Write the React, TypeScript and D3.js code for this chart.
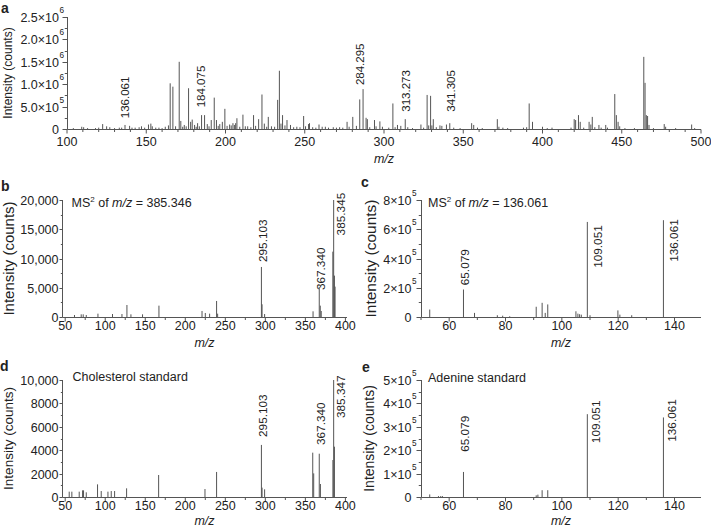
import React from 'react';
import * as d3 from 'd3';

// ---------- panel a : full scan spectrum ----------
const peaksA: [number, number][] = [
    [104, 2e4], [109.3, 5e4], [110.5, 4e4], [113, 2e4], [118, 2e4], [120, 3e4], [122.5, 1.1e5], [125, 6e4],
    [127, 4e4], [130, 2e4], [133, 3e4], [134.5, 3e4], [136.6, 9e4], [139.5, 7e4], [141, 3e4], [143, 3e4],
    [145.5, 4e4], [147, 6e4], [149, 3e4], [151.4, 1.0e5], [152.9, 1.2e5], [153.8, 6e4], [156, 3e4], [158, 3e4],
    [160, 2e4], [162, 5e4], [164, 8e4], [165.1, 1.02e6], [166.8, 9.45e5], [168.5, 6e4], [170.8, 1.5e6],
    [171.8, 1.8e5], [173, 5e4], [174, 9e4], [175.2, 6e4], [176.7, 9.1e5], [178, 1.6e5], [179, 2.1e5],
    [180.5, 9e4], [181.5, 5e4], [182.4, 1.3e5], [183.5, 6e4], [184.9, 3.1e5], [186.8, 3.1e5], [188.5, 1.1e5],
    [189.6, 6e4], [191, 2.0e5], [192.9, 7.0e5], [194.3, 2.0e5], [195.4, 7e4], [196.4, 1.1e5], [198, 1.6e5],
    [199.6, 4.5e5], [201, 7e4], [202.6, 1.0e5], [203.6, 8e4], [204.7, 1.3e5], [205.6, 9e4], [206.4, 1.3e5],
    [207.2, 2.4e5], [209, 5e4], [211, 3.2e5], [212.5, 6e4], [214, 6e4], [216, 4e4], [217.7, 3.1e5],
    [219, 7e4], [220.9, 2.2e5], [223, 7.7e5], [224.5, 1.2e5], [226, 5e4], [227, 2.7e5], [229, 6e4],
    [231, 5e4], [232.9, 6.5e5], [234, 1.3e6], [235, 1.2e5], [236, 3.1e5], [237.5, 8e4], [238.8, 2.0e5],
    [241, 9e4], [243, 4e4], [245, 5e4], [247, 4e4], [249.3, 2.9e5], [250.5, 6e4], [252.4, 1.1e5],
    [253, 1.3e5], [255, 4e4], [257, 3e4], [259, 1.0e5], [261, 5e4], [263, 5e4], [265, 3e4], [268, 4e4],
    [270, 3e4], [272, 4e4], [274, 3e4], [276.7, 1.6e5], [278, 5e4], [280.3, 2.7e5], [282.6, 7e4],
    [284.7, 6.6e5], [286.8, 8.9e5], [288.7, 2.5e5], [289.5, 2.2e5], [291, 4e4], [294, 2.0e5], [295, 6e4],
    [297.4, 1.7e5], [299, 5e4], [303, 3e4], [305.6, 5.7e5], [307, 4e4], [308.5, 9e4], [310.6, 7e4],
    [313.4, 2.2e5], [315, 4e4], [318, 2e4], [323.3, 1.0e5], [325, 3e4], [327.2, 7.6e5], [328.2, 8e4],
    [329.4, 7.4e5], [330.2, 8e4], [331.1, 2.2e5], [333, 4e4], [335.3, 8e4], [336.5, 7e4], [339.4, 1.0e5],
    [341.5, 1.3e5], [344, 3e4], [348, 2e4], [355.3, 1.3e5], [356.6, 9e4], [359, 3e4], [362, 2e4],
    [371.5, 2.2e5], [372.5, 5e4], [375, 3e4], [378, 2e4], [388, 3e4], [390, 4e4], [391.6, 5.7e5],
    [393.7, 1.6e5], [400, 5e4], [403, 2e4], [406, 3e4], [418, 3e4], [420, 2.2e5], [420.9, 2.0e5],
    [422.7, 3.1e5], [423.8, 1.6e5], [426, 3e4], [429.4, 1.6e5], [430.5, 1.0e5], [431.4, 2.7e5], [433, 4e4],
    [435.6, 9e4], [437, 3e4], [439.9, 9e4], [441, 3e4], [445.6, 7.8e5], [446.6, 3.1e5], [447.7, 1.6e5],
    [448.7, 6e4], [452, 2e4], [458, 2e4], [463.9, 1.61e6], [464.7, 1.03e6], [465.5, 3.1e5], [466.3, 2.9e5],
    [467.2, 9e4], [470, 2e4], [476.8, 1.1e5], [477.7, 5e4], [484, 2e4], [494.1, 1.0e5], [496, 2e4]
];
// text, m/z, intensity level where the text starts, placed beside the peak
const labelsA: [string, number, number, boolean][] = [
    ['136.061', 136.061, 2.4e5, false],
    ['184.075', 184.075, 4.85e5, false],
    ['284.295', 284.295, 9.8e5, false],
    ['313.273', 313.273, 3.85e5, false],
    ['341.305', 341.305, 3.85e5, false]
];
const xTicksA = [100, 150, 200, 250, 300, 350, 400, 450, 500];
const yTicksA = [0, 5e5, 1e6, 1.5e6, 2e6, 2.5e6];
const yTickTextA: [string, string][] = [['0', ''], ['5.0×10', '5'], ['1.0×10', '6'], ['1.5×10', '6'], ['2.0×10', '6'], ['2.5×10', '6']];

// ---------- panel b : MS2 of 385.346 ----------
const peaksB: [number, number][] = [
    [61.6, 340], [70, 456], [72.5, 456], [76.3, 340], [90.9, 570], [109.1, 510], [120.9, 510], [127.1, 2050],
    [132.1, 456], [146.6, 456], [167.1, 1940], [220.9, 1030], [225, 684], [230.4, 570], [239.1, 2740],
    [240.4, 570], [295.1, 8550], [295.9, 2170], [299.1, 510], [359.6, 970], [367.34, 5130], [368.6, 1940],
    [369.8, 1030], [384.3, 11170], [385.35, 20000], [386.3, 7070], [387.1, 5190]
];
const labelsB: [string, number, number, boolean][] = [
    ['295.103', 295.103, 9400, false],
    ['367.340', 367.34, 4600, false],
    ['385.345', 385.345, 13950, true]
];
const xTicksB = [50, 100, 150, 200, 250, 300, 350, 400];
const yTicksB = [0, 5000, 10000, 15000, 20000];
const yTickTextB: [string, string][] = [['0', ''], ['5,000', ''], ['10,000', ''], ['15,000', ''], ['20,000', '']];

// ---------- panel c : MS2 of 136.061 ----------
const peaksC: [number, number][] = [
    [53.1, 5.1e4], [65.079, 1.88e5], [69, 2.8e4], [77.1, 1.2e4], [79, 9e3], [81.5, 5e3], [90.9, 7.0e4],
    [93, 9.7e4], [94.1, 2.8e4], [95, 8.6e4], [105, 3.9e4], [105.7, 2.3e4], [106.3, 1.9e4], [106.9, 1.6e4],
    [109.051, 6.5e5], [110, 1.2e4], [119.9, 4.5e4], [120.6, 1.6e4], [124.8, 1.2e4], [136.061, 6.62e5]
];
const labelsC: [string, number, number, boolean][] = [
    ['65.079', 65.079, 2.17e5, false],
    ['109.051', 109.051, 3.36e5, true],
    ['136.061', 136.061, 3.77e5, true]
];
const xTicksC = [60, 80, 100, 120, 140];
const yTicksC = [0, 2e5, 4e5, 6e5, 8e5];
const yTickTextC: [string, string][] = [['0', ''], ['2×10', '5'], ['4×10', '5'], ['6×10', '5'], ['8×10', '5']];

// ---------- panel d : cholesterol standard ----------
const peaksD: [number, number][] = [
    [55, 456], [58.3, 456], [67.5, 456], [71.7, 570], [72.9, 570], [76.3, 400], [90.4, 1080], [95, 510],
    [103.4, 456], [107.5, 510], [111.7, 510], [126.7, 740], [166.7, 1880], [224.6, 680], [239.1, 2140],
    [295.1, 4450], [295.9, 800], [299.1, 655], [359.2, 3790], [360.4, 2020], [367.34, 3700], [368.8, 1110],
    [384.4, 3160], [385.35, 10000], [386.3, 4300]
];
const labelsD: [string, number, number, boolean][] = [
    ['295.103', 295.103, 5130, false],
    ['367.340', 367.34, 4440, false],
    ['385.347', 385.347, 6750, true]
];
const yTicksD = [0, 2000, 4000, 6000, 8000, 10000];
const yTickTextD: [string, string][] = [['0', ''], ['2000', ''], ['4000', ''], ['6000', ''], ['8000', ''], ['10,000', '']];

// ---------- panel e : adenine standard ----------
const peaksE: [number, number][] = [
    [53.1, 1.1e4], [56.2, 4e3], [57, 4e3], [57.6, 4e3], [65.079, 1.07e5], [90.9, 7e3], [91.5, 1.0e4],
    [93, 2.9e4], [95, 2.9e4], [109.051, 3.54e5], [136.061, 3.4e5]
];
const labelsE: [string, number, number, boolean][] = [
    ['65.079', 65.079, 1.93e5, false],
    ['109.051', 109.051, 2.3e5, true],
    ['136.061', 136.061, 2.36e5, true]
];
const yTicksE = [0, 1e5, 2e5, 3e5, 4e5, 5e5];
const yTickTextE: [string, string][] = [['0', ''], ['1×10', '5'], ['2×10', '5'], ['3×10', '5'], ['4×10', '5'], ['5×10', '5']];

const FONT = '"Liberation Sans", Arial, Helvetica, sans-serif';
const INK = '#222';
const AXIS = '#555';
const PEAK = '#555';

interface PanelSpec {
    letter: string;
    letterPos: [number, number];
    left: number; right: number; top: number; bottom: number;
    xDomain: [number, number];
    yMax: number;
    xTicks: number[];
    xMinorStep: number;
    yTicks: number[];
    yTickText: [string, string][];
    yMinorStep: number;
    peaks: [number, number][];
    labels: [string, number, number, boolean][];
    note?: React.ReactNode;
    notePos?: [number, number];
    tickSize: number;
    titleSize: number;
    titleX: number;
    labelSize: number;
    labelGap: number;
    yLabelGap: number;
    yTickLen: number;
    xLabelY: number;
    mzY: number;
}

function Panel({s}: { s: PanelSpec }) {
    const x = d3.scaleLinear().domain(s.xDomain).range([s.left, s.right]);
    const y = d3.scaleLinear().domain([0, s.yMax]).range([s.bottom, s.top]);
    const y0 = Math.round(y(0)) + 0.5;
    const ax = Math.round(s.left) + 0.5;

    const xMinor = d3.range(Math.ceil(s.xDomain[0] / s.xMinorStep) * s.xMinorStep, s.xDomain[1] + 1e-6, s.xMinorStep)
        .filter(v => !s.xTicks.includes(v));
    const yMinor = d3.range(0, s.yMax + 1e-6, s.yMinorStep).filter(v => !s.yTicks.includes(v));

    return (
        <g fontFamily={FONT} fill={INK}>
            <text x={s.letterPos[0]} y={s.letterPos[1]} fontSize={14} fontWeight="bold">{s.letter}</text>

            {s.peaks.map(([mz, v], i) => (
                <line key={i} x1={x(mz)} x2={x(mz)} y1={y0} y2={y(v)} stroke={PEAK} strokeWidth={1}/>
            ))}

            {/* axes */}
            <line x1={ax} x2={s.right} y1={y0} y2={y0} stroke={AXIS}/>
            <line x1={ax} x2={ax} y1={y0} y2={y(s.yMax)} stroke={AXIS}/>

            {s.xTicks.map(t => (
                <g key={'xt' + t}>
                    <line x1={x(t)} x2={x(t)} y1={y0} y2={y0 + 4} stroke={AXIS}/>
                    <text x={x(t)} y={s.xLabelY} fontSize={s.tickSize} textAnchor="middle">{t}</text>
                </g>
            ))}
            {xMinor.map(t => (
                <line key={'xm' + t} x1={x(t)} x2={x(t)} y1={y0} y2={y0 + 2.5} stroke={AXIS}/>
            ))}

            {s.yTicks.map((t, i) => {
                const [base, exp] = s.yTickText[i];
                const ty = Math.round(y(t)) + 0.5;
                const end = ax - s.yLabelGap;
                return (
                    <g key={'yt' + t}>
                        <line x1={ax - s.yTickLen} x2={ax} y1={ty} y2={ty} stroke={AXIS}/>
                        <text x={end} y={ty} dy="0.36em" fontSize={s.tickSize} textAnchor="end">{base}</text>
                        {exp && <text x={end + 0.4} y={ty - s.tickSize * 0.38} fontSize={s.tickSize * 0.66}>{exp}</text>}
                    </g>
                );
            })}
            {yMinor.map(t => {
                const ty = Math.round(y(t)) + 0.5;
                return <line key={'ym' + t} x1={ax - s.yTickLen * 0.55} x2={ax} y1={ty} y2={ty} stroke={AXIS}/>;
            })}

            {/* peak annotations */}
            {s.labels.map(([txt, mz, level, beside]) => {
                const cx = x(mz) + (beside ? s.labelGap : 1);
                return (
                    <text key={txt} fontSize={s.labelSize}
                          transform={`translate(${cx + s.labelSize * 0.36},${y(level)}) rotate(-90)`}>{txt}</text>
                );
            })}

            {/* axis titles */}
            <text fontSize={s.titleSize} textAnchor="middle"
                  transform={`translate(${s.titleX + s.titleSize * 0.36},${(s.top + s.bottom) / 2}) rotate(-90)`}>
                Intensity (counts)
            </text>
            <text x={(s.left + s.right) / 2} y={s.mzY} fontSize={s.tickSize} fontStyle="italic" textAnchor="middle">m/z</text>

            {s.note && s.notePos && (
                <text x={s.notePos[0]} y={s.notePos[1]} fontSize={12.5} style={{whiteSpace: 'pre'}}>{s.note}</text>
            )}
        </g>
    );
}

const ms2Note = (prec: string) => (
    <>
        <tspan>MS</tspan>
        <tspan dy={-5} fontSize={8}>2</tspan>
        <tspan dy={5}>{' of '}</tspan>
        <tspan fontStyle="italic">m/z</tspan>
        <tspan>{' = ' + prec}</tspan>
    </>
);

const panels: PanelSpec[] = [
    {
        letter: 'a', letterPos: [1, 13],
        left: 67, right: 701, top: 17, bottom: 129,
        xDomain: [100, 500], yMax: 2.5e6,
        xTicks: xTicksA, xMinorStep: 10,
        yTicks: yTicksA, yTickText: yTickTextA, yMinorStep: 2.5e5,
        peaks: peaksA, labels: labelsA,
        tickSize: 12.5, titleSize: 12, titleX: 7.5, labelSize: 11.5, labelGap: 7,
        yLabelGap: 8.5, yTickLen: 5, xLabelY: 146, mzY: 163
    },
    {
        letter: 'b', letterPos: [1, 190.5],
        left: 62, right: 347, top: 200, bottom: 317,
        xDomain: [46, 402], yMax: 20000,
        xTicks: xTicksB, xMinorStep: 25,
        yTicks: yTicksB, yTickText: yTickTextB, yMinorStep: 2500,
        peaks: peaksB, labels: labelsB,
        note: ms2Note('385.346'), notePos: [71.5, 206.5],
        tickSize: 12.5, titleSize: 15, titleX: 8.5, labelSize: 11.8, labelGap: 7,
        yLabelGap: 4, yTickLen: 3, xLabelY: 330, mzY: 347
    },
    {
        letter: 'c', letterPos: [361, 187],
        left: 421, right: 701, top: 200, bottom: 317,
        xDomain: [50, 149.4], yMax: 8e5,
        xTicks: xTicksC, xMinorStep: 10,
        yTicks: yTicksC, yTickText: yTickTextC, yMinorStep: 1e5,
        peaks: peaksC, labels: labelsC,
        note: ms2Note('136.061'), notePos: [428, 206.5],
        tickSize: 12.5, titleSize: 15.5, titleX: 370, labelSize: 11.8, labelGap: 10.5,
        yLabelGap: 10, yTickLen: 5, xLabelY: 330, mzY: 347
    },
    {
        letter: 'd', letterPos: [0, 371],
        left: 62, right: 347, top: 380, bottom: 497,
        xDomain: [46, 402], yMax: 10000,
        xTicks: xTicksB, xMinorStep: 25,
        yTicks: yTicksD, yTickText: yTickTextD, yMinorStep: 1000,
        peaks: peaksD, labels: labelsD,
        note: <tspan>Cholesterol standard</tspan>, notePos: [72.5, 380.5],
        tickSize: 12.5, titleSize: 13.5, titleX: 8.5, labelSize: 11.8, labelGap: 7.5,
        yLabelGap: 4, yTickLen: 3, xLabelY: 510, mzY: 525
    },
    {
        letter: 'e', letterPos: [362, 372],
        left: 421, right: 701, top: 380, bottom: 497,
        xDomain: [50, 149.4], yMax: 5e5,
        xTicks: xTicksC, xMinorStep: 10,
        yTicks: yTicksE, yTickText: yTickTextE, yMinorStep: 5e4,
        peaks: peaksE, labels: labelsE,
        note: <tspan>Adenine standard</tspan>, notePos: [428, 381.5],
        tickSize: 12.5, titleSize: 14, titleX: 368.5, labelSize: 11.8, labelGap: 8,
        yLabelGap: 10, yTickLen: 5, xLabelY: 510, mzY: 525
    }
];

export default function App() {
    return (
        <svg width={711} height={527} style={{position: 'absolute', left: 0, top: 0, background: '#fff'}}>
            {panels.map(p => <Panel key={p.letter} s={p}/>)}
        </svg>
    );
}
